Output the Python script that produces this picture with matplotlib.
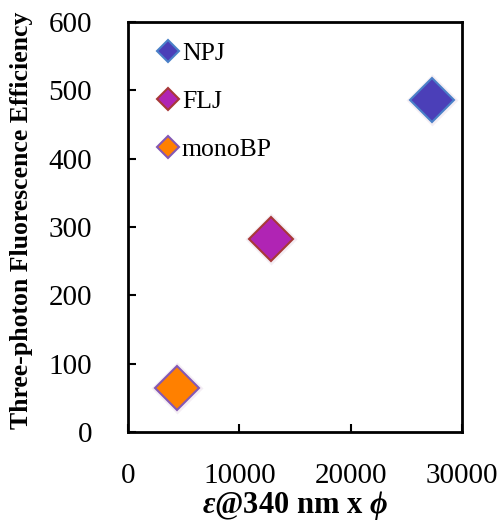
import matplotlib
matplotlib.use("Agg")
import matplotlib.pyplot as plt

plt.rcParams['font.family'] = ['Liberation Serif', 'DejaVu Serif']
plt.rcParams['mathtext.fontset'] = 'custom'
plt.rcParams['mathtext.it'] = 'Liberation Serif:italic:bold'
plt.rcParams['mathtext.rm'] = 'Liberation Serif:bold'
plt.rcParams['ytick.major.pad'] = 26
plt.rcParams['xtick.major.pad'] = 22

# data
names = ["NPJ", "FLJ", "monoBP"]
x_vals = [27300, 12850, 4400]
y_vals = [486, 283, 64]
fills = ["#4b3fb8", "#b024b4", "#ff8000"]
edges = ["#4a80c8", "#a83838", "#8458b4"]

fig = plt.figure(figsize=(5.03, 5.22), dpi=100)
ax = fig.add_axes([0.2545, 0.1724, 0.664, 0.7855])

for n, x, y, fc, ec in zip(names, x_vals, y_vals, fills, edges):
    # soft halo behind the marker
    ax.plot(x, y, 'D', ms=26, mfc='#f4eef4', mec='none', zorder=2)
    ax.plot(x, y, 'D', ms=22, mfc=fc, mec=ec, mew=1.5, label=n, zorder=3)

ax.set_xlim(0, 30000)
ax.set_ylim(0, 600)
ax.set_xticks([0, 10000, 20000, 30000])
ax.set_yticks(range(0, 601, 100))
ax.tick_params(direction='in', length=6, width=1.5, labelsize=21)
for s in ax.spines.values():
    s.set_linewidth(2)

ax.set_ylabel("Three-photon Fluorescence Efficiency", fontsize=18.5,
              fontweight='bold')
ax.yaxis.set_label_coords(-0.285, 0.517)
ax.set_xlabel(r"$\varepsilon$@340 nm x $\phi$", fontsize=22,
              fontweight='bold', labelpad=0)

leg = ax.legend(loc='upper left', bbox_to_anchor=(0.065, 0.975), frameon=False,
                fontsize=18.5, markerscale=0.5, handlelength=0.6,
                handletextpad=0.25, labelspacing=0.97, borderaxespad=0)

fig.savefig("out.png", dpi=100)
